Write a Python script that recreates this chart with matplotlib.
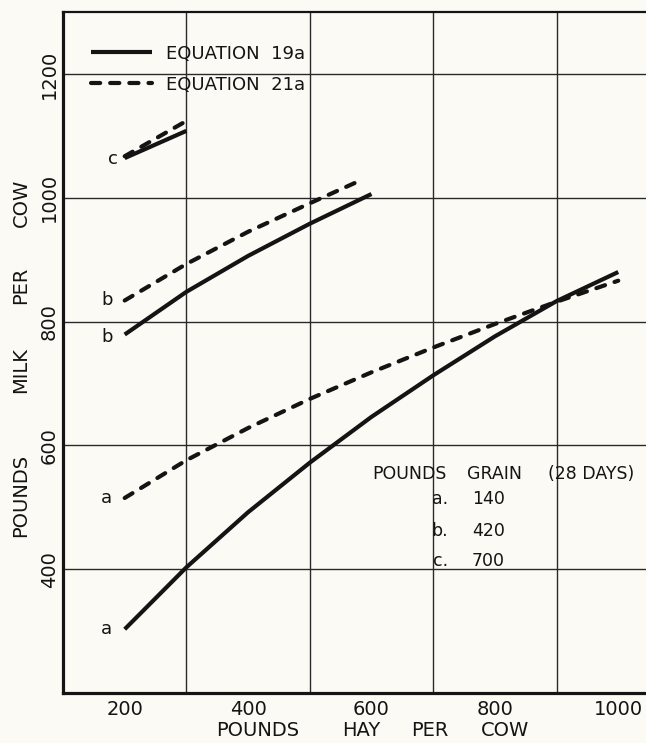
import matplotlib
matplotlib.use("Agg")
import matplotlib.pyplot as plt
from matplotlib.lines import Line2D

# ---- data ----
hay_a = [200, 300, 400, 500, 600, 700, 800, 900, 1000]
milk_a_eq19a = [303, 403, 492, 572, 646, 713, 776, 833, 880]
milk_a_eq21a = [515, 576, 628, 675, 718, 758, 796, 832, 866]

hay_b_eq19a = [200, 300, 400, 500, 600]
milk_b_eq19a = [779, 848, 906, 958, 1006]
hay_b_eq21a = [200, 300, 400, 500, 580]
milk_b_eq21a = [834, 893, 945, 991, 1027]

hay_c = [200, 300]
milk_c_eq19a = [1064, 1108]
milk_c_eq21a = [1067, 1124]

x_ticks = [200, 400, 600, 800, 1000]
x_grid = [300, 500, 700, 900]
y_ticks = [400, 600, 800, 1000, 1200]

x_label_words = ["POUNDS", "HAY", "PER", "COW"]
y_label_words = ["POUNDS", "MILK", "PER", "COW"]
key_words = ["POUNDS", "GRAIN", "(28 DAYS)"]
grain_letters = ["a.", "b.", "c."]
grain_values = ["140", "420", "700"]

# ---- figure ----
BG = "#fbfaf4"
INK = "#141414"
W, H = 646, 743
fig = plt.figure(figsize=(W / 100, H / 100), dpi=100, facecolor=BG)
ax = fig.add_axes([63 / W, 1 - 693 / H, 583 / W, 681 / H])
ax.set_facecolor(BG)
ax.set_xlim(100, 1045)
ax.set_ylim(200, 1300)

FS = 14
lw = 3.0
dash = dict(linestyle=(0, (2.2, 2.4)), dash_capstyle="round")

ax.plot(hay_a, milk_a_eq19a, color=INK, lw=lw, solid_capstyle="butt", zorder=3)
ax.plot(hay_a, milk_a_eq21a, color=INK, lw=lw, zorder=3, **dash)
ax.plot(hay_b_eq19a, milk_b_eq19a, color=INK, lw=lw, solid_capstyle="butt", zorder=3)
ax.plot(hay_b_eq21a, milk_b_eq21a, color=INK, lw=lw, zorder=3, **dash)
ax.plot(hay_c, milk_c_eq19a, color=INK, lw=lw, solid_capstyle="butt", zorder=3)
ax.plot(hay_c, milk_c_eq21a, color=INK, lw=lw, zorder=3, **dash)

# curve letters
def letter(txt, x, y):
    ax.annotate(txt, (x, y), xytext=(-18, 0), textcoords="offset pixels",
                ha="center", va="center", fontsize=13, color=INK)

letter("a", hay_a[0], milk_a_eq19a[0])
letter("a", hay_a[0], milk_a_eq21a[0])
letter("b", hay_b_eq19a[0], milk_b_eq19a[0] - 4)
letter("b", hay_b_eq21a[0], milk_b_eq21a[0])
letter("c", hay_c[0] + 10, milk_c_eq19a[0] - 2)

# grid
for gx in x_grid:
    ax.axvline(gx, color="#2a2a2a", lw=1.0, zorder=1)
for gy in y_ticks:
    ax.axhline(gy, color="#2a2a2a", lw=1.0, zorder=1)

ax.set_xticks(x_ticks)
ax.set_xticklabels([str(v) for v in x_ticks])
ax.set_yticks(y_ticks)
ax.set_yticklabels([str(v) for v in y_ticks], rotation=90, va="center")
ax.tick_params(axis="both", length=0, labelsize=FS, colors=INK)
ax.tick_params(axis="x", pad=5)
ax.tick_params(axis="y", pad=3)

for s in ["left", "bottom"]:
    ax.spines[s].set_linewidth(2.3)
    ax.spines[s].set_color(INK)
ax.spines["top"].set_linewidth(1.6)
ax.spines["top"].set_color(INK)
ax.spines["right"].set_visible(False)

# axis labels (word by word, widely spaced as in the original lettering)
for word, cx in zip(x_label_words, [258, 361, 430, 505]):
    fig.text(cx / W, 1 - 731 / H, word, ha="center", va="center",
             fontsize=FS, color=INK)
for word, cy in zip(y_label_words, [495, 370, 285, 203]):
    fig.text(21 / W, 1 - cy / H, word, ha="center", va="center",
             rotation=90, fontsize=FS, color=INK)

# legend
handles = [Line2D([0], [0], color=INK, lw=lw, solid_capstyle="butt"),
           Line2D([0], [0], color=INK, lw=lw, **dash)]
leg = ax.legend(handles, ["EQUATION  19a", "EQUATION  21a"], loc="upper left",
                bbox_to_anchor=(0.048, 0.952), frameon=False, fontsize=13,
                handlelength=3.4, handletextpad=0.75, labelspacing=0.72,
                borderpad=0, borderaxespad=0)
for t in leg.get_texts():
    t.set_color(INK)

# grain key
for word, kx in zip(key_words, [601, 755, 886]):
    ax.text(kx, 553, word, ha="left", va="center", fontsize=12.5, color=INK)
key_y = [513, 461, 413]
for lt, gv, yy in zip(grain_letters, grain_values, key_y):
    ax.text(724, yy, lt, ha="right", va="center", fontsize=12.5, color=INK)
    ax.text(763, yy, gv, ha="left", va="center", fontsize=12.5, color=INK)

fig.savefig("out.png", dpi=100, facecolor=BG)
